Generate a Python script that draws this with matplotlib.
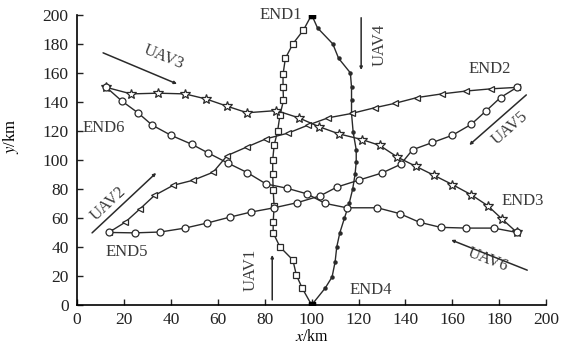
import numpy as np
import matplotlib
matplotlib.use("Agg")
import matplotlib.pyplot as plt

plt.rcParams['font.family'] = ['Liberation Serif', 'DejaVu Serif']
plt.rcParams['mathtext.fontset'] = 'stix'

# trajectories (km)
uav1_x = [100, 96, 93.5, 92, 86.5, 83.6, 83.6, 84, 83.6, 83.4, 83.4, 84, 85.5, 86.5, 88, 87.8, 87.8, 88.8, 92, 96.5, 100]
uav1_y = [0, 11.5, 20.5, 31, 40, 49.7, 57, 68, 79, 90, 100, 110, 120, 131, 141, 150, 159, 170, 180, 189.5, 200]

uav4_x = [100, 102.5, 109, 111.5, 116.5, 117, 117, 117, 117.7, 119, 119, 118.5, 117.5, 116, 114, 112, 110.7, 110, 108.7, 105.8, 100]
uav4_y = [200, 191, 180, 170, 160, 150, 141, 132, 119, 107, 98.6, 90, 80, 70, 60, 49.7, 40, 29.7, 19.3, 11.7, 0]

uav2_x = [13.5, 20.5, 27, 33, 41, 49.5, 58, 64, 72.5, 80.5, 90, 98.5, 107, 117, 127, 135.5, 145, 155.5, 166, 176.5, 187.5]
uav2_y = [50, 57, 66.5, 75.5, 82.5, 86, 91.5, 103, 109, 114.5, 118.5, 124, 129, 132, 136, 139, 143, 145.5, 147.5, 149, 150]

uav5_x = [187.5, 180.5, 174.5, 168, 160, 151.5, 143, 138, 130, 120, 110.8, 103.6, 93.8, 84, 74, 65, 55.5, 46, 35.5, 24.5, 13.5]
uav5_y = [150, 143, 134, 124.5, 117, 112, 107, 97, 91, 86, 81.3, 75.2, 70.5, 67, 64, 60.5, 56.5, 53, 50.3, 49.7, 50]

uav3_x = [12.5, 23, 34.5, 46, 55, 64, 72.5, 85, 94.5, 103, 111.5, 121.5, 129, 136.5, 144.5, 152, 160, 168, 175, 181, 187.5]
uav3_y = [150, 145.5, 146, 145.5, 142, 137, 132.5, 134, 129, 123, 118, 114, 110, 102, 95.5, 89.5, 83, 76, 68.5, 59.5, 50]

uav6_x = [187.5, 177.6, 166, 155, 146, 137.5, 128, 115, 105.8, 98, 89.4, 80.6, 72.5, 64.3, 56, 49, 40, 32, 26, 19, 12.5]
uav6_y = [50, 53, 53, 53.5, 57, 63, 67, 67, 70, 76.6, 80.5, 83.4, 91.3, 97.8, 104.7, 110.7, 117, 124, 132.4, 140.7, 150]

ends = ['END1', 'END2', 'END3', 'END4', 'END5', 'END6']
end_pos = [(96, 200), (176, 163), (190, 71.5), (125, 10), (21, 36.5), (11.5, 122)]
end_ha = ['right', 'center', 'center', 'center', 'center', 'center']

uav_names = ['UAV1', 'UAV2', 'UAV3', 'UAV4', 'UAV5', 'UAV6']
uav_text = [(74, 24), (13.5, 69.5), (37, 170.5), (129, 179), (184.5, 122), (175, 31)]
uav_rot = [90, 43, -22, 90, 41, -21]
arrow_tail = [(83.2, 3.5), (6.4, 49.7), (11.1, 173.8), (121.1, 198), (191.5, 144.8), (191.9, 24)]
arrow_head = [(83.2, 34.5), (33.7, 91), (42.6, 152.4), (121.1, 162), (167.2, 110.3), (159.5, 44.8)]

c = '#2a2a2a'
tc = '#3a3a3a'

fig = plt.figure(figsize=(5.75, 3.45), dpi=100)
ax = fig.add_axes([0.134, 0.116, 0.816, 0.841])

ax.plot(uav1_x, uav1_y, '-', color=c, lw=1, marker='s', ms=4.2, mfc='white', mec=c, mew=0.9)
ax.plot(uav4_x, uav4_y, '-', color=c, lw=1, marker='o', ms=2.2, mfc=c, mec=c)
ax.plot(uav2_x, uav2_y, '-', color=c, lw=1, marker='<', ms=5, mfc='white', mec=c, mew=0.9)
ax.plot(uav5_x, uav5_y, '-', color=c, lw=1, marker='o', ms=5, mfc='white', mec=c, mew=0.9)
ax.plot(uav3_x, uav3_y, '-', color=c, lw=1, marker='*', ms=7, mfc='white', mec=c, mew=0.9)
ax.plot(uav6_x, uav6_y, '-', color=c, lw=1, marker='o', ms=5, mfc='white', mec=c, mew=0.9)
# filled squares at END1 / END4
ax.plot([uav1_x[0], uav1_x[-1]], [uav1_y[0], uav1_y[-1]], 's', ms=4, color='black')

for name, pos, ha in zip(ends, end_pos, end_ha):
    ax.text(pos[0], pos[1], name, ha=ha, va='center', fontsize=12, color=tc)

for name, pos, rot, t, h in zip(uav_names, uav_text, uav_rot, arrow_tail, arrow_head):
    ax.text(pos[0], pos[1], name, rotation=rot, rotation_mode='anchor',
            ha='center', va='center', fontsize=12, color=tc)
    ax.annotate('', xy=h, xytext=t,
                arrowprops=dict(arrowstyle='-|>', lw=1.1, color=c, mutation_scale=4,
                                shrinkA=0, shrinkB=0))

ax.set_xlim(0, 200)
ax.set_ylim(0, 200)
ax.set_xticks(np.arange(0, 201, 20))
ax.set_yticks(np.arange(0, 201, 20))
ax.tick_params(direction='in', length=4, width=1, labelsize=12.5, colors='#222222')
ax.tick_params(axis='x', pad=5)
ax.tick_params(axis='y', pad=6)
for s in ['top', 'right']:
    ax.spines[s].set_visible(False)
for s in ['left', 'bottom']:
    ax.spines[s].set_linewidth(1.2)
ax.set_xlabel('$x$/km', fontsize=11.5)
ax.set_ylabel('$y$/km', fontsize=12)
ax.xaxis.set_label_coords(0.5, -0.082)
ax.yaxis.set_label_coords(-0.12, 0.58)

fig.savefig('out.png', dpi=100)
